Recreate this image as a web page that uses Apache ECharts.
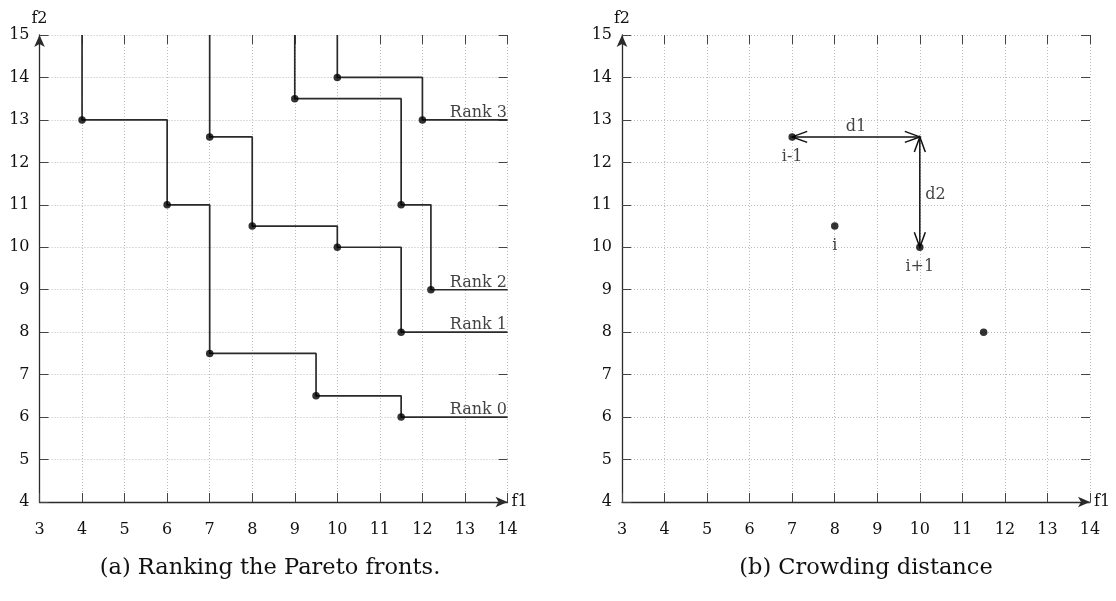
<!DOCTYPE html>
<html>
<head>
<meta charset="utf-8">
<script src="https://cdn.jsdelivr.net/npm/echarts@6/dist/echarts.min.js"></script>
<style>
  html, body { margin: 0; padding: 0; background: #fff; }
  #chart { width: 1116px; height: 601px; }
</style>
</head>
<body>
<div id="chart"></div>
<script>
// (a) pareto fronts, one pair of arrays per rank
const rank0F1 = [4, 6, 7, 9.5, 11.5];
const rank0F2 = [13, 11, 7.5, 6.5, 6];
const rank1F1 = [7, 8, 10, 11.5];
const rank1F2 = [12.6, 10.5, 10, 8];
const rank2F1 = [9, 11.5, 12.2];
const rank2F2 = [13.5, 11, 9];
const rank3F1 = [10, 12];
const rank3F2 = [14, 13];
const rankNames = ["Rank 0", "Rank 1", "Rank 2", "Rank 3"];

// (b) crowding distance
const crowdF1 = [7, 8, 10, 11.5];
const crowdF2 = [12.6, 10.5, 10, 8];
const crowdNames = ["i-1", "i", "i+1", ""];
const distNames = ["d1", "d2"];

const f1Min = 3, f1Max = 14;
const f2Min = 4, f2Max = 15;
const captions = ["(a) Ranking the Pareto fronts.", "(b) Crowding distance"];

const FONT = "DejaVu Serif";
const INK = "#111";
const LINE = "#2a2a2a";

function mainX(gi) {
  return {
    gridIndex: gi, type: "value", min: f1Min, max: f1Max, interval: 1,
    position: "bottom",
    name: "f1", nameLocation: "end", nameGap: 4,
    nameTextStyle: { fontFamily: FONT, fontSize: 16, color: INK, align: "left", verticalAlign: "middle" },
    axisLine: { show: true, onZero: false, symbol: ["none", "arrow"], symbolSize: [8, 12],
      lineStyle: { color: LINE, width: 1.3 } },
    axisTick: { inside: true, length: 9, lineStyle: { color: "#444" } },
    axisLabel: { margin: 20, fontFamily: FONT, fontSize: 16, color: INK },
    splitLine: { show: true, lineStyle: { color: "#bbb", type: [1, 2] } }
  };
}
function mainY(gi) {
  return {
    gridIndex: gi, type: "value", min: f2Min, max: f2Max, interval: 1,
    position: "left",
    name: "f2", nameLocation: "end", nameGap: 8,
    nameTextStyle: { fontFamily: FONT, fontSize: 16, color: INK },
    axisLine: { show: true, onZero: false, symbol: ["none", "arrow"], symbolSize: [8, 12],
      lineStyle: { color: LINE, width: 1.3 } },
    axisTick: { inside: true, length: 9, lineStyle: { color: "#444" } },
    axisLabel: { margin: 10, padding: [4, 0, 0, 0], fontFamily: FONT, fontSize: 16, color: INK },
    splitLine: { show: true, lineStyle: { color: "#bbb", type: [1, 2] } }
  };
}
// mirrored ticks on top / right edge
function mirrorX(gi) {
  return {
    gridIndex: gi, type: "value", min: f1Min, max: f1Max, interval: 1, position: "top",
    axisLine: { show: false }, axisLabel: { show: false }, splitLine: { show: false },
    axisTick: { show: true, inside: true, length: 9, lineStyle: { color: "#444" } }
  };
}
function mirrorY(gi) {
  return {
    gridIndex: gi, type: "value", min: f2Min, max: f2Max, interval: 1, position: "right",
    axisLine: { show: false }, axisLabel: { show: false }, splitLine: { show: false },
    axisTick: { show: true, inside: true, length: 9, lineStyle: { color: "#444" } }
  };
}

function stairs(f1, f2) {
  const pts = f1.map((x, i) => [x, f2[i]]);
  return [[f1[0], f2Max]].concat(pts, [[f1Max, f2[f2.length - 1]]]);
}

const fronts = [
  [rank0F1, rank0F2], [rank1F1, rank1F2], [rank2F1, rank2F2], [rank3F1, rank3F2]
];

const series = [];
fronts.forEach(([f1, f2], k) => {
  series.push({
    type: "line", xAxisIndex: 0, yAxisIndex: 0, step: "end",
    data: stairs(f1, f2), showSymbol: false, silent: true, z: 3,
    lineStyle: { color: LINE, width: 1.7 }
  });
  series.push({
    type: "scatter", xAxisIndex: 0, yAxisIndex: 0, z: 5,
    data: f1.map((x, i) => [x, f2[i]]), symbolSize: 7.5,
    itemStyle: { color: "#000" }
  });
  series.push({
    type: "scatter", xAxisIndex: 0, yAxisIndex: 0, z: 5,
    data: [[f1Max, f2[f2.length - 1]]], symbolSize: 1,
    itemStyle: { color: "rgba(0,0,0,0)" },
    label: { show: true, formatter: rankNames[k], position: "left", distance: 0, offset: [0, -7],
      fontFamily: FONT, fontSize: 16, color: INK }
  });
});

// crowding distance panel
series.push({
  type: "scatter", xAxisIndex: 2, yAxisIndex: 2, z: 5,
  data: crowdF1.map((x, i) => ({ value: [x, crowdF2[i]], name: crowdNames[i] })),
  symbolSize: 7.5, itemStyle: { color: "#000" },
  label: { show: true, formatter: p => p.name, position: "bottom", distance: 8,
    fontFamily: FONT, fontSize: 16, color: INK }
});

const d1 = [crowdF1[0], crowdF2[0], crowdF1[2], crowdF2[0]];
const d2 = [crowdF1[2], crowdF2[0], crowdF1[2], crowdF2[2]];

// double headed arrow with open heads
function renderArrow(params, api) {
  const a = api.coord([api.value(0), api.value(1)]);
  const b = api.coord([api.value(2), api.value(3)]);
  const len = Math.hypot(b[0] - a[0], b[1] - a[1]);
  const ux = (b[0] - a[0]) / len, uy = (b[1] - a[1]) / len;
  const L = 15, W = 5.5;
  const head = (p, s) => [
    [p[0] + s * L * ux - W * uy, p[1] + s * L * uy + W * ux],
    p,
    [p[0] + s * L * ux + W * uy, p[1] + s * L * uy - W * ux]
  ];
  const style = { stroke: "#111", lineWidth: 1.5, fill: null };
  return {
    type: "group",
    children: [
      { type: "line", shape: { x1: a[0], y1: a[1], x2: b[0], y2: b[1] }, style },
      { type: "polyline", shape: { points: head(a, 1) }, style },
      { type: "polyline", shape: { points: head(b, -1) }, style }
    ]
  };
}
series.push({
  type: "custom", xAxisIndex: 2, yAxisIndex: 2, z: 4, silent: true,
  renderItem: renderArrow,
  encode: { x: [0, 2], y: [1, 3] },
  data: [d1, d2]
});
series.push({
  type: "scatter", xAxisIndex: 2, yAxisIndex: 2, z: 5,
  data: [{ value: [(d1[0] + d1[2]) / 2, d1[1]], name: distNames[0] }],
  symbolSize: 1, itemStyle: { color: "rgba(0,0,0,0)" },
  label: { show: true, formatter: p => p.name, position: "top", distance: 2,
    fontFamily: FONT, fontSize: 16, color: INK }
});
series.push({
  type: "scatter", xAxisIndex: 2, yAxisIndex: 2, z: 5,
  data: [{ value: [d2[0], (d2[1] + d2[3]) / 2], name: distNames[1] }],
  symbolSize: 1, itemStyle: { color: "rgba(0,0,0,0)" },
  label: { show: true, formatter: p => p.name, position: "right", distance: 5, offset: [0, 3],
    fontFamily: FONT, fontSize: 16, color: INK }
});

const chart = echarts.init(document.getElementById("chart"), null, { renderer: "canvas" });
chart.setOption({
  animation: false,
  backgroundColor: "#fff",
  title: [
    { text: captions[0], left: 265, top: 552, textAlign: "center",
      textStyle: { fontFamily: FONT, fontSize: 22.5, fontWeight: "normal", color: INK } },
    { text: captions[1], left: 861, top: 552, textAlign: "center",
      textStyle: { fontFamily: FONT, fontSize: 22.5, fontWeight: "normal", color: INK } }
  ],
  grid: [
    { left: 39.5, top: 35, width: 468, height: 467 },
    { left: 622, top: 35, width: 468, height: 467 }
  ],
  xAxis: [mainX(0), mirrorX(0), mainX(1), mirrorX(1)],
  yAxis: [mainY(0), mirrorY(0), mainY(1), mirrorY(1)],
  series: series
});
</script>
</body>
</html>
